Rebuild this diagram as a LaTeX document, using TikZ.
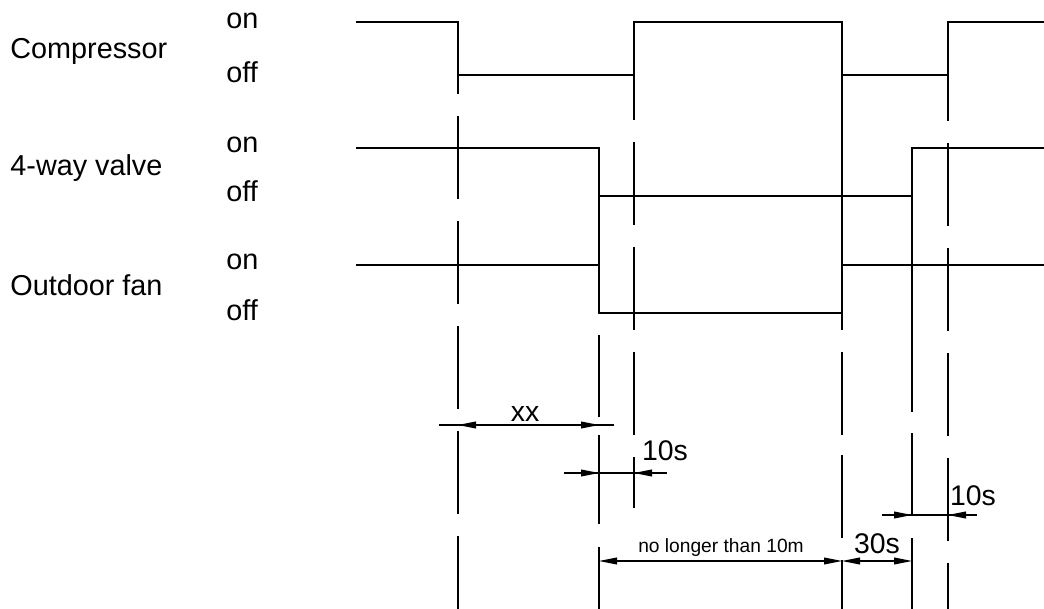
\documentclass[tikz,border=0pt]{standalone}
\usepackage{fontspec}
\setmainfont{Liberation Sans}
\usepackage{tikz}
\usetikzlibrary{arrows.meta}

\begin{document}
\begin{tikzpicture}[x = 0.5pt, y = -0.5pt,
  >={Triangle[length=9pt,width=3.4pt]},
  lab/.style={anchor=base west, inner sep=0pt, font=\fontsize{14.4pt}{17pt}\selectfont},
  dimlab/.style={anchor=base, inner sep=0pt, font=\fontsize{14.2pt}{17pt}\selectfont},
  sig/.style={line width=0.55pt},
  guide/.style={line width=0.55pt, dash pattern=on 41.5pt off 11pt}]
\useasboundingbox (0,0) rectangle (1044,609);

\node[lab] (comp) at (10,59) {Compressor};
\node[lab] (compon) at (226,29) {on};
\node[lab] (compoff) at (226,83) {off};
\node[lab] (valve) at (10,176) {4-way valve};
\node[lab] (valveon) at (226,153) {on};
\node[lab] (valveoff) at (226,202) {off};
\node[lab] (fan) at (10,296) {Outdoor fan};
\node[lab] (fanon) at (226,270) {on};
\node[lab] (fanoff) at (226,321) {off};

% signal levels
\draw[sig] (356,22) -- (458,22) -- (458,75) -- (634,75) -- (634,22) -- (842,22) -- (842,75) -- (948,75) -- (948,22) -- (1044,22);
\draw[sig] (356,148) -- (599,148) -- (599,196) -- (912,196) -- (912,148) -- (1044,148);
\draw[sig] (356,265) -- (599,265) -- (599,313) -- (842,313) -- (842,265) -- (1044,265);

% time marks
\foreach \x/\a/\b/\ph in {458/22/609/5.5, 634/22/508/45, 948/22/609/44.5}
  \draw[guide, dash phase=\ph pt] (\x,\a) -- (\x,\b);
\draw[guide, dash pattern=on 82.5pt off 11pt on 41pt off 9pt on 44.5pt off 11.5pt] (599,148) -- (599,609);
\draw[guide, dash pattern=on 154pt off 11pt on 41.5pt off 10pt on 41.5pt off 11pt] (842,22) -- (842,609);
\draw[guide, dash pattern=on 132pt off 10.5pt on 41pt off 11.5pt] (912,148) -- (912,609);

% durations
\draw[sig] (439,425) -- (614,425);
\draw[sig, <->] (458,425) -- (599,425);
\node[dimlab] (xx) at (525,421) {xx};

\draw[sig] (564,473) -- (667,473);
\draw[sig, ->] (564,473) -- (599,473);
\draw[sig, <-] (634,473) -- (667,473);
\node[dimlab] (tenl) at (665,460) {10s};

\draw[sig, <->] (599,561) -- (842,561);
\node[dimlab, font=\fontsize{9.6pt}{11pt}\selectfont] (limit) at (721,552) {no longer than 10m};
\draw[sig, <->] (842,561) -- (912,561);
\node[dimlab] (thirty) at (877,553) {30s};

\draw[sig] (882,515) -- (977,515);
\draw[sig, ->] (882,515) -- (912,515);
\draw[sig, <-] (948,515) -- (977,515);
\node[dimlab] (tenr) at (973,505) {10s};

\end{tikzpicture}
\end{document}
